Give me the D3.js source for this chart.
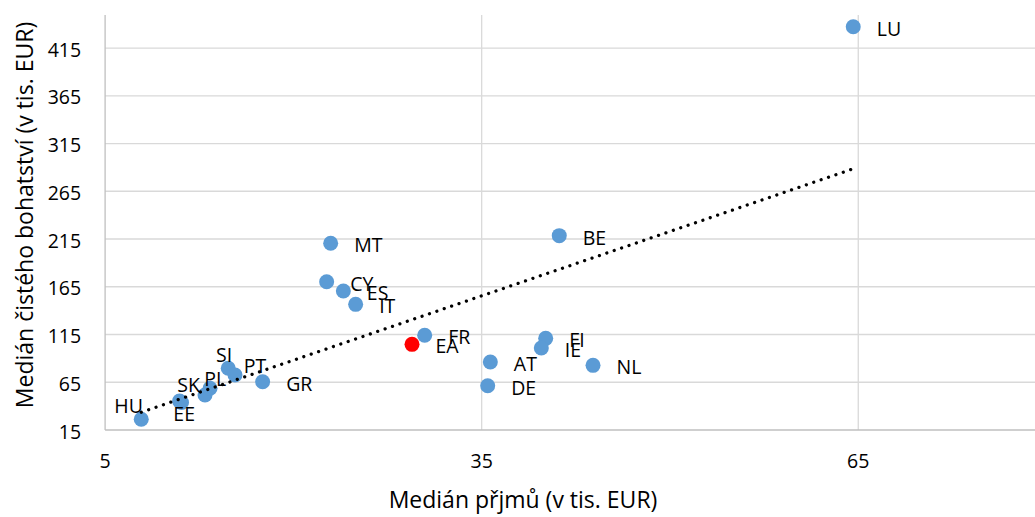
<!DOCTYPE html>
<html><head><meta charset="utf-8">
<script src="https://cdn.jsdelivr.net/npm/d3@7"></script>
<style>
body{margin:0;background:#fff}
svg{display:block}
text{font-family:"Open Sans",sans-serif;fill:#000}
</style>
</head><body>
<svg id="c" width="1035" height="517"></svg>
<script>
// ---- data ----
const countries = ["LU","MT","CY","ES","IT","FR","BE","FI","IE","AT","DE","NL","HU","SK","EE","LV","PL","SI","PT","GR"];
const income    = [64.6,22.97,22.65,23.98,24.96,30.46,41.18,40.10,39.75,35.69,35.48,43.87,7.88,10.93,11.09,12.96,13.36,14.81,15.35,17.55];
const wealth    = [437.3,210.5,170.3,160.5,146.6,114.2,218.5,111.0,100.9,86.2,61.4,82.7,26.2,45.4,43.8,51.6,58.7,79.6,72.6,65.6];
const hiddenLabels = ["LV"];
const eaLabel = ["EA"];
const eaIncome = [29.45];
const eaWealth = [104.7];
const xTicks = [5,35,65];
const yTicks = [15,65,115,165,215,265,315,365,415];
const xTitle = "Medián přjmů (v tis. EUR)";
const yTitle = "Medián čistého bohatství (v tis. EUR)";

// ---- layout ----
const W = 1035, H = 517;
const x = d3.scaleLinear().domain([5, 79.08]).range([105.1, 1035]);
const y = d3.scaleLinear().domain([15, 449.6]).range([430, 15]);
const labelDefault = {dx: 23.5, dy: 1.5};
const labelNudge = {
  HU: {dx: -27, dy: -14.3},
  SK: {dx: -2.2, dy: -16.7},
  EE: {dx: -8.2, dy: 10.8},
  PL: {dx: -5.7, dy: -10},
  SI: {dx: -12.3, dy: -14.3},
  PT: {dx: 8.7, dy: -9.3}
};
const svg = d3.select("#c");
const fs = "19.5px";

// gridlines
svg.append("g").selectAll("line").data(yTicks.filter(t => t !== yTicks[0])).join("line")
  .attr("x1", x.range()[0]).attr("x2", x.range()[1])
  .attr("y1", d => y(d)).attr("y2", d => y(d))
  .attr("stroke", "#D9D9D9").attr("stroke-width", 1.3);
svg.append("g").selectAll("line").data(xTicks.filter(t => t !== xTicks[0])).join("line")
  .attr("x1", d => x(d)).attr("x2", d => x(d))
  .attr("y1", y.range()[0]).attr("y2", y.range()[1])
  .attr("stroke", "#D9D9D9").attr("stroke-width", 1.3);

// axis lines
svg.append("line").attr("x1", x.range()[0]).attr("x2", x.range()[0])
  .attr("y1", y.range()[0]).attr("y2", y.range()[1])
  .attr("stroke", "#BFBFBF").attr("stroke-width", 1.3);
svg.append("line").attr("x1", x.range()[0]).attr("x2", x.range()[1])
  .attr("y1", y.range()[0]).attr("y2", y.range()[0])
  .attr("stroke", "#BFBFBF").attr("stroke-width", 1.3);

// tick labels
svg.append("g").selectAll("text").data(yTicks).join("text")
  .attr("x", x.range()[0] - 24).attr("y", d => y(d) + 1)
  .attr("text-anchor", "end").attr("dominant-baseline", "central")
  .style("font-size", fs).text(d => d);
svg.append("g").selectAll("text").data(xTicks).join("text")
  .attr("x", d => x(d)).attr("y", y.range()[0] + 30)
  .attr("text-anchor", "middle").attr("dominant-baseline", "central")
  .style("font-size", fs).text(d => d);

// titles
svg.append("text").attr("x", 523).attr("y", 499)
  .attr("text-anchor", "middle").attr("dominant-baseline", "central")
  .style("font-size", "23px").text(xTitle);
svg.append("text").attr("transform", "translate(24,215) rotate(-90)")
  .attr("text-anchor", "middle").attr("dominant-baseline", "central")
  .style("font-size", "23px").text(yTitle);

// data
const pts = countries.map((c, i) => ({c, x: income[i], y: wealth[i]}));
const ea = eaLabel.map((c, i) => ({c, x: eaIncome[i], y: eaWealth[i]}));

svg.append("g").selectAll("circle").data(pts).join("circle")
  .attr("cx", d => x(d.x)).attr("cy", d => y(d.y)).attr("r", 7.5)
  .attr("fill", "#5B9BD5");
svg.append("g").selectAll("circle").data(ea).join("circle")
  .attr("cx", d => x(d.x)).attr("cy", d => y(d.y)).attr("r", 7.5)
  .attr("fill", "#FF0000");

// linear trendline (least squares)
const mx = d3.mean(income), my = d3.mean(wealth);
const sxy = d3.sum(income, (v, i) => (v - mx) * (wealth[i] - my));
const sxx = d3.sum(income, v => (v - mx) ** 2);
const slope = sxy / sxx, icpt = my - slope * mx;
const [x0, x1] = d3.extent(income);
svg.append("line")
  .attr("x1", x(x0)).attr("y1", y(icpt + slope * x0))
  .attr("x2", x(x1)).attr("y2", y(icpt + slope * x1))
  .attr("stroke", "#000").attr("stroke-width", 3.3)
  .attr("stroke-linecap", "round").attr("stroke-dasharray", "0.01 7.8");

// labels
const lab = pts.filter(d => !hiddenLabels.includes(d.c)).concat(ea);
svg.append("g").selectAll("text").data(lab).join("text")
  .attr("x", d => x(d.x) + (labelNudge[d.c] || labelDefault).dx)
  .attr("y", d => y(d.y) + (labelNudge[d.c] || labelDefault).dy)
  .attr("dominant-baseline", "central")
  .style("font-size", fs).text(d => d.c);
</script>
</body></html>
